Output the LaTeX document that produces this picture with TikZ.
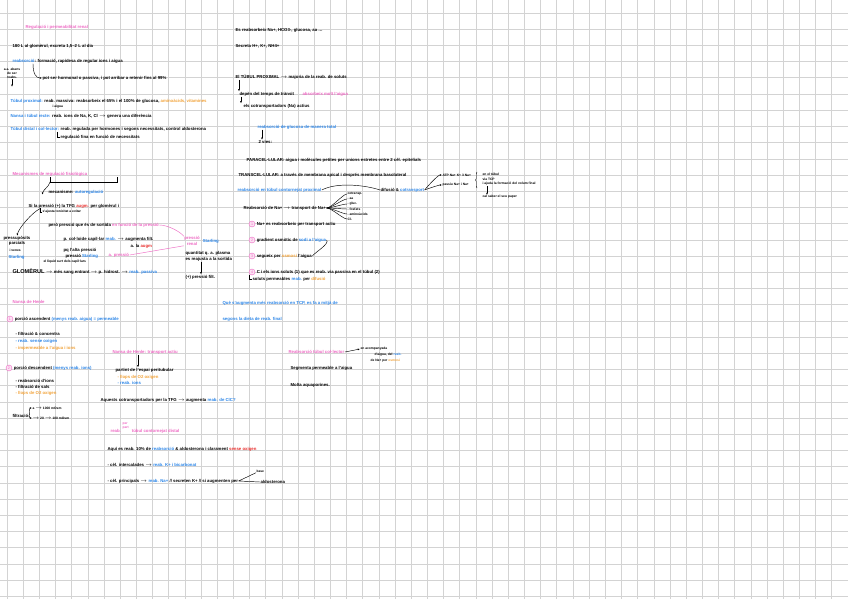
\documentclass[tikz,border=0pt]{standalone}
\usepackage{fontspec}
\setmainfont{Liberation Sans}
\usepackage{tikz}
\usetikzlibrary{arrows.meta,calc,positioning,decorations.pathreplacing}
\definecolor{pnk}{HTML}{EE6AC4}
\definecolor{blu}{HTML}{2C86E8}
\definecolor{orng}{HTML}{F2A33A}
\definecolor{rdw}{HTML}{E8302E}
\definecolor{gridgray}{HTML}{D3D3D3}
\newcommand{\bl}[1]{\textcolor{blu}{#1}}
\newcommand{\pk}[1]{\textcolor{pnk}{#1}}
\newcommand{\og}[1]{\textcolor{orng}{#1}}
\newcommand{\rw}[1]{\textcolor{rdw}{#1}}

\begin{document}
\begin{tikzpicture}[x=1pt,y=-1pt,>={Latex[length=2.2pt,width=1.8pt]},
  txt/.style={anchor=west,inner sep=0.4pt,font=\fontsize{4.3}{5.2}\selectfont\bfseries},
  tinytxt/.style={anchor=west,inner sep=0.3pt,font=\fontsize{3.3}{4.1}\selectfont\bfseries},
  numc/.style={circle,draw=pnk,fill=pnk!20,text=pnk,inner sep=0pt,minimum size=6pt,font=\fontsize{3.6}{4}\selectfont},
  gridln/.style={draw=gridgray,line width=0.6pt},
  ink/.style={line width=0.45pt}]
  \useasboundingbox (0,0) rectangle (848,599);
  \fill[white] (0,0) rectangle (848,599);
  % squared paper
  \foreach \i in {0,...,52} \draw[gridln] ({7+16.17*\i},0) -- ++(0,599);
  \foreach \j in {0,...,36} \draw[gridln] (0,{13+16.2*\j}) -- ++(848,0);

  % left column, top
  \node[txt,text=pnk] (titol) at (25,27) {Regulació i permeabilitat renal};
  \node[txt] (filtrat) at (12,46) {180 L al glomèrul, excreta 1,5--2 L al dia};
  \node[txt] (reab) at (12,61) {\bl{reabsorció}: formació, rapidesa de regular ions i aigua};
  \node[txt] (hormonal) at (42,78) {pot ser hormonal o passiva, i pot arribar a retenir fins al 99\%};
  \draw[ink,->] ([xshift=21pt]reab.south west) .. controls +(0,10) and +(-6,0) .. (hormonal.west);
  \node[tinytxt,anchor=center,align=center] (abans) at (12,73) {a.a. abans\\de ser\\reabs.};
  \draw[ink,->] (abans.south) -- ++(0,8);

  \node[txt] (tp) at (10,101) {\bl{Túbul proximal:} reab. massiva: reabsorbeix el 65\% i el 100\% de glucosa, \og{aminoàcids, vitamines}};
  \node[tinytxt] (tpb) at (52,107) {i aigua};
  \node[txt] (nansa) at (10,116) {\bl{Nansa i túbul recte:} reab. ions de Na, K, Cl $\to$ genera una diferència};
  \node[txt] (tdc) at (10,129) {\bl{Túbul distal i col·lector:} reab. regulada per hormones i segons necessitats, control aldosterona};
  \node[txt] (fina) at (60,137) {regulació fina en funció de necessitats};
  \draw[ink] ($(fina.west)+(-3,-5)$) |- (fina.west);

  % mechanisms
  \node[txt,text=pnk] (mecan) at (12,174) {Mecanismes de regulació fisiològica};
  \coordinate (brL) at (50,177);
  \coordinate (brR) at (117,177);
  \draw[ink] (brL) -- ++(0,5) -| (brR);
  \node[txt] (aparells) at (48,192) {mecanisme: \bl{autoregulació}};
  \draw[ink,->] ($(brL)+(0,5)$) .. controls +(-2,6) and +(2,-6) .. ([xshift=-6pt]aparells.south west);
  \node[txt] (si) at (28,206) {Si la pressió (+) la TFG \rw{augm.} per glomèrul i};
  \node[tinytxt] (ajusta) at (42,212) {s'ajusta tonicitat a evitar};
  \draw[ink] ($(ajusta.west)+(-2,-4)$) |- (ajusta.west);
  \node[txt] (sortida) at (48,225) {però pressió que és de sortida \pk{en funció de la pressió}};
  \node[txt,anchor=center,align=center] (press) at (17,241) {pressupòsits\\parcials};
  \draw[ink,->] ([xshift=12pt]si.south west) .. controls +(-8,4) and +(2,-8) .. (press.north);
  \node[tinytxt] (venes) at (9,250) {i venes};
  \node[txt,text=blu] (starl) at (8,257) {Starling};
  \node[txt] (coloide) at (63,239) {p. col·loide capil·lar \bl{reab.} $\to$ augmenta filt.};
  \node[txt] (augm) at (130,246) {a. la \rw{augm}};
  \node[txt] (pq) at (63,250) {pq l'alta pressió};
  \node[txt] (pstarl) at (65,256) {pressió \bl{Starling}};
  \node[txt,text=pnk] (apress) at (108,255) {a. pressió};
  \node[tinytxt] (liquid) at (43,262) {el líquid surt dels capil·lars};
  \node[txt,text=pnk,anchor=center,align=center] (prenal) at (192,241) {pressió\\renal};
  \node[txt,text=blu,right=2pt of prenal] (starl2) {Starling};
  \draw[pnk,ink] (sortida.east) .. controls +(8,0) and +(-4,-5) .. (prenal.north west);
  \draw[pnk,ink] (apress.east) -- (prenal.south west);
  \node[txt] (glom) at (12,271) {{\fontsize{5.6}{6}\selectfont GLOMÈRUL} $\to$ més sang entrant $\to$ p. hidrost. $\to$ \bl{reab. passiva}};
  \node[txt] (quant) at (185,253) {quantitat q. a. plasma};
  \node[txt] (reaj) at (185,259) {es reajusta a la sortida};
  \node[txt] (pfilt) at (185,277) {(+) pressió filt.};
  \draw[ink,->] ([xshift=16pt]reaj.south west) -- ([xshift=16pt]pfilt.north west);

  % right column
  \node[txt] (esreab) at (235,30) {Es reabsorbeix Na+, HCO3-, glucosa, aa \dots};
  \node[txt] (secreta) at (235,46) {Secreta H+, K+, NH4+};
  \node[txt] (proxim) at (235,77) {El TÚBUL PROXIMAL $\to$ majoria de la reab. de soluts};
  \node[txt] (depen) at (239,94) {depèn del temps de trànsit};
  \node[txt,text=pnk] (aigua) at (302,94) {absorbeix molt l'aigua};
  \node[txt] (cotr) at (243,106) {els cotransportadors (Na) actius};
  \draw[ink,->] ([xshift=4pt]proxim.south west) -- ([xshift=0pt]depen.north west);
  \draw[ink,->] ([xshift=2pt]depen.south west) -- ([xshift=-2pt]cotr.north west);
  \node[txt,text=blu] (gluc) at (257,127) {reabsorció de glucosa de manera total};
  \node[txt] (vies) at (258,142) {2 vies:};
  \draw[ink,->] ([xshift=5pt]gluc.south west) -- ([xshift=4pt]vies.north west);
  \node[txt] (para) at (246,160) {PARACEL·LULAR: aigua i molècules petites per unions estretes entre 2 cèl. epitelials};
  \node[txt] (trans) at (238,175) {TRANSCEL·LULAR: a través de membrana apical i després membrana basolateral};
  \node[txt,text=blu] (tcpx) at (237,190) {reabsorció en túbul contornejat proximal};
  \node[txt] (difusio) at (380,190) {difusió \& \bl{cotransport}};
  \draw[ink] (tcpx.east) .. controls +(15,-8) and +(-15,-5) .. (difusio.west);
  \node[tinytxt] (atp) at (442,175) {ATP Na+ K+ 3 Na+};
  \node[tinytxt] (pasv) at (442,185) {passiu Na+ i Na+};
  \draw[ink,->] (difusio.east) .. controls +(3,-4) and +(-4,0) .. (atp.west);
  \draw[ink,->] (difusio.east) .. controls +(2,-1) and +(-3,0) .. (pasv.west);
  \draw[ink,decorate,decoration={brace,amplitude=1.5pt,mirror}] (477,172) -- (477,188);
  \node[tinytxt] (entub) at (482,174) {en el túbul};
  \node[tinytxt] (viatcp) at (482,179) {via TCP};
  \node[tinytxt] (ajuda) at (482,184) {i ajuda la formació del volum final};
  \node[tinytxt] (paper) at (482,197) {cal saber el seu paper};
  \draw[ink,->] ([xshift=5pt]ajuda.south west) -- ([xshift=5pt]paper.north west);

  \node[txt] (na) at (243,208) {Reabsorció de Na+ $\to$ transport de Na+};
  \foreach \t [count=\i] in {cotransp.,- aa,- gluc.,- fosfats,- aminoàcids,Cl-}
    \node[tinytxt] (na\i) at (347,{189+5*\i}) {\t};
  \foreach \i in {1,...,6}
    \draw[ink] (na.east) .. controls +(5,0) and +(-4,0) .. (na\i.west);

  \node[numc] (c1) at (252,224) {1};
  \node[txt,right=1pt of c1] (n1) {Na+ es reabsorbeix per transport actiu};
  \node[numc] (c2) at (252,240) {2};
  \node[txt,right=1pt of c2] (n2) {gradient osmòtic de \bl{sodi a l'aigua}};
  \node[numc] (c3) at (252,256) {3};
  \node[txt,right=1pt of c3] (n3) {segueix per \og{osmosi} l'aigua};
  \node[numc] (c4) at (252,272) {4};
  \node[txt,right=1pt of c4] (n4) {C i els ions soluts (1) que es reab. via passiva en el túbul (2)};
  \node[txt] (n5) at (252,279) {soluts permeables \bl{reab.} per \og{difusió}};
  \draw[ink] ($(n5.west)+(-3,-4)$) |- (n5.west);
  \draw[ink] (n2.east) .. controls +(3,4) and +(3,-4) .. (n3.east);

  \node[txt,text=blu] (tcpm) at (222,303) {Què s'augmenta més reabsorció en TCP, es fa a mitjà de};
  \node[txt,text=blu] (dieta) at (222,319) {segons la dieta de reab. final};

  % left column, bottom
  \node[txt,text=pnk] (henle) at (12,302) {Nansa de Henle};
  \node[numc] (h1) at (10,319) {1};
  \node[txt,right=1pt of h1] (asc) {porció ascendent \bl{(menys reab. aigua) = permeable}};
  \node[txt] (a1) at (15,334) {- filtració \& concentra};
  \node[txt,text=blu] (a2) at (15,341) {- reab. sense oxigen};
  \node[txt,text=orng] (a3) at (15,348) {- impermeable a l'aigua i ions};
  \node[numc] (h2) at (9,368) {2};
  \node[txt,right=1pt of h2] (desc) {porció descendent \bl{(menys reab. ions)}};
  \node[txt] (d1) at (15,381) {- reabsorció d'ions};
  \node[txt] (d2) at (15,387) {- filtració de sals};
  \node[txt,text=orng] (d3) at (15,393) {- llops de O2 oxigen};
  \node[txt] (filt) at (12,416) {filtració};
  \node[tinytxt] (fb1) at (32,408) {a $\to$ 1000 mOsm};
  \node[tinytxt] (fb2) at (32,418) {$\to$ 20 $\to$ 100 mOsm};
  \draw[ink,->] (filt.east) .. controls +(2,0) and +(-3,0) .. (fb1.west);
  \draw[ink,->] (filt.east) .. controls +(2,0) and +(-3,0) .. (fb2.west);

  % middle, bottom
  \node[txt,text=pnk] (actiu) at (112,352) {Nansa de Henle: transport actiu};
  \node[txt] (peri) at (115,370) {partint de l'espai peritubular};
  \draw[ink,->] ([xshift=26pt]actiu.south west) -- ([xshift=23pt]peri.north west);
  \node[txt,text=orng] (p1) at (117,377) {- llops de O2 oxigen};
  \node[txt,text=blu] (p2) at (117,383) {- reab. ions};
  \node[txt] (aquests) at (100,400) {Aquests cotransportadors per la TFG $\to$ augmenta \bl{reab. de ClC?}};

  \node[txt,text=pnk] (distal) at (110,431) {reab.\hspace{11pt}túbul contornejat distal};
  \node[tinytxt,text=pnk,align=left] (perpart) at (122,426) {per\\part};
  \node[txt] (aqui) at (107,449) {Aquí es reab. 10\% de \bl{reabsorció} \& aldosterona i clarament \rw{sense oxigen}};
  \node[txt] (inter) at (107,465) {- cèl. intercalades $\to$ \bl{reab. K+ i bicarbonat}};
  \node[txt] (princ) at (107,481) {- cèl. principals $\to$ \bl{reab. Na+} // secreten K+ // si augmenten per};
  \node[tinytxt] (base) at (256,471) {base};
  \node[txt] (aldo) at (260,482) {aldosterona};
  \draw[ink] (base.south west) -- (princ.east) -- (aldo.west);

  % collector
  \node[txt,text=pnk] (colect) at (288,352) {Reabsorció túbul col·lector};
  \node[tinytxt] (acomp) at (360,349) {en acompanyada};
  \node[tinytxt] (daigua) at (374,355) {d'aigua, del \bl{reab.}};
  \node[tinytxt] (osmo) at (370,361) {de Na+ per \og{osmosi}};
  \draw[ink,->] (colect.east) -- (acomp.west);
  \node[txt] (segm) at (290,368) {Segmenta permeable a l'aigua};
  \node[txt] (aquap) at (290,385) {Molta aquaporines.};
\end{tikzpicture}
\end{document}
